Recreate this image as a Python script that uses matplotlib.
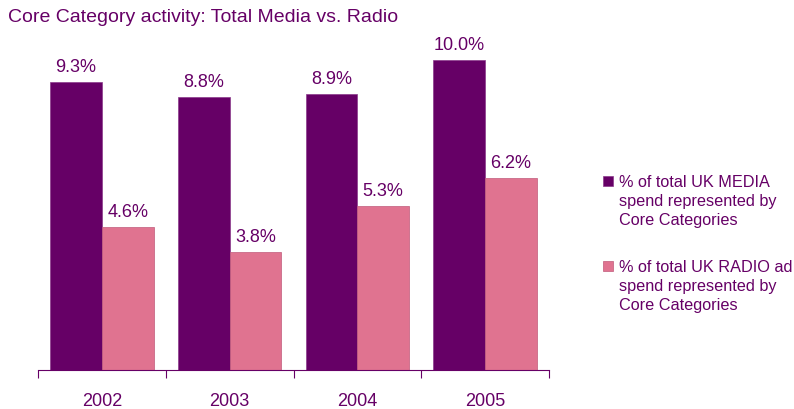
import numpy as np
import matplotlib
matplotlib.use('Agg')
import matplotlib.pyplot as plt
from matplotlib.patches import Rectangle

years = ['2002', '2003', '2004', '2005']
media_share = [9.3, 8.8, 8.9, 10.0]
radio_share = [4.6, 3.8, 5.3, 6.2]
series_names = ['% of total UK MEDIA\nspend represented by\nCore Categories',
                '% of total UK RADIO ad\nspend represented by\nCore Categories']

dark = '#660066'
pink = '#E07390'
txt = '#660066'

plt.rcParams['font.family'] = ['Liberation Sans', 'DejaVu Sans']

fig = plt.figure(figsize=(7.94, 4.10), dpi=100)
ax = fig.add_axes([38/794, 39/410, 511/794, 325.5/410])

x = np.arange(len(years))
w = 0.405
b1 = ax.bar(x - w/2, media_share, width=w, color=dark, edgecolor='#8a3a8a', linewidth=0.5)
b2 = ax.bar(x + w/2, radio_share, width=w, color=pink, edgecolor='#c05a7a', linewidth=0.5)

for bars, vals in [(b1, media_share), (b2, radio_share)]:
    for r, v in zip(bars, vals):
        ax.annotate('%.1f%%' % v, xy=(r.get_x() + r.get_width()/2, v),
                    xytext=(0, 5), textcoords='offset points',
                    ha='center', va='bottom', fontsize=13, color=txt)

ax.set_xlim(-0.5, len(years) - 0.5)
ax.set_ylim(0, 10.5)
ax.set_xticks(np.arange(-0.5, len(years)), minor=False)
ax.set_xticklabels([])
ax.set_xticks(x, minor=True)
ax.set_xticklabels(years, minor=True, fontsize=13, color=txt)
ax.tick_params(axis='x', which='major', length=6, color=dark, direction='out')
ax.tick_params(axis='x', which='minor', length=0, pad=16)
ax.set_yticks([])
for s in ['top', 'right', 'left']:
    ax.spines[s].set_visible(False)
ax.spines['bottom'].set_color(dark)

fig.text(8/794, 1 - 17/410, 'Core Category activity: Total Media vs. Radio',
         fontsize=14, color=txt, va='center', ha='left')

# legend drawn by hand so the squares sit on the first text line
legend_colors = [dark, pink]
legend_edges = ['#8a3a8a', '#c05a7a']
legend_tops = [177, 262]
for name, c, ec, top in zip(series_names, legend_colors, legend_edges, legend_tops):
    fig.patches.append(Rectangle((603/794, 1 - (top + 10)/410), 10/794, 10/410,
                                 transform=fig.transFigure, facecolor=c,
                                 edgecolor=ec, linewidth=0.5))
    fig.text(619/794, 1 - (top - 2)/410, name, fontsize=11.7, color=txt,
             ha='left', va='top', linespacing=1.33)

fig.savefig('out.png', dpi=100)
